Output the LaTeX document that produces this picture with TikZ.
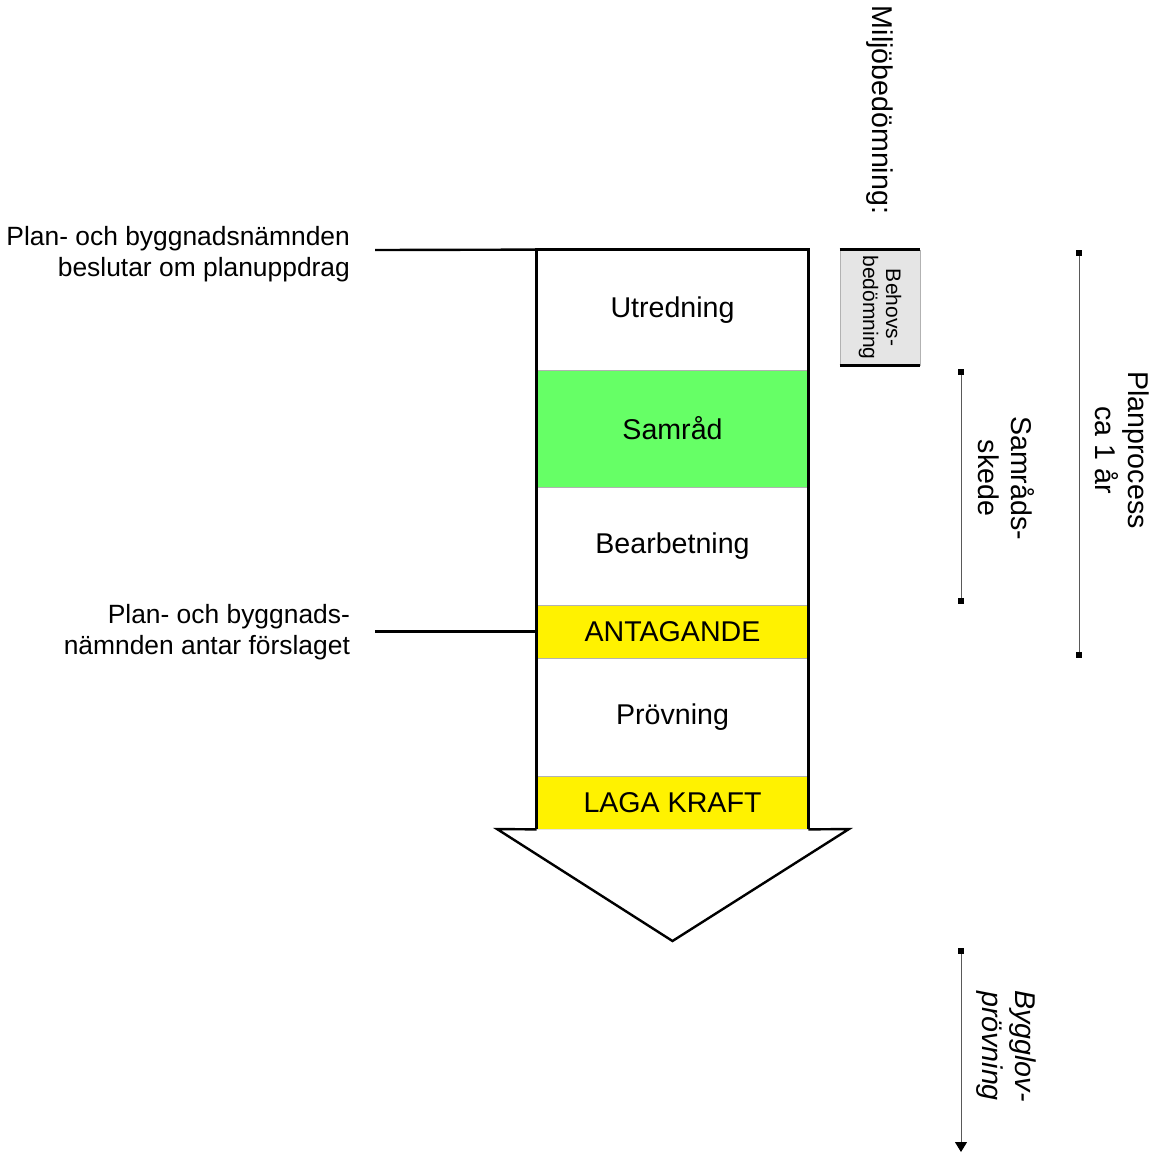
\documentclass[tikz,border=0pt]{standalone}
\usepackage{fontspec}
\setmainfont{Liberation Sans}
\usetikzlibrary{arrows.meta}
\definecolor{samradgreen}{RGB}{102,255,102}

\begin{document}
\begin{tikzpicture}[x=0.5pt,y=-0.5pt]
        % Define styles
        \tikzset{
            band/.style={rectangle, draw=gray!60, line width=0.4pt, inner sep=0pt, minimum width=135.5pt, font=\fontsize{14.3}{16}\selectfont},
            white band/.style={band, fill=white},
            green band/.style={band, fill=samradgreen},
            yellow band/.style={band, fill=yellow},
            leftlabel/.style={align=right, anchor=east, font=\fontsize{13.2}{15.5}\selectfont},
            sidelabel/.style={align=center, rotate=-90, font=\fontsize{14.3}{16.5}\selectfont},
            endmark/.tip={Square[length=3pt,width=3pt,black]},
            span/.style={gray!70!black, line width=0.5pt, endmark-endmark},
            outline/.style={line width=1.2pt}
        }
        \useasboundingbox (0,0) rectangle (1156,1153);

        % Nodes
        \node[white band, minimum height=60pt] (utredning) at (672.5,310) {Utredning};
        \node[green band, minimum height=58.5pt] (samrad) at (672.5,428.5) {Samråd};
        \node[white band, minimum height=59pt] (bearbetning) at (672.5,546) {Bearbetning};
        \node[yellow band, minimum height=26.5pt] (antagande) at (672.5,631.5) {ANTAGANDE};
        \node[white band, minimum height=59pt] (provning) at (672.5,717) {Prövning};
        \node[yellow band, minimum height=26.5pt] (lagakraft) at (672.5,802.5) {LAGA KRAFT};

        \node[leftlabel] (uppdrag) at (357,254) {Plan- och byggnadsnämnden\\beslutar om planuppdrag};
        \node[leftlabel] (antar) at (357,632) {Plan- och byggnads-\\nämnden antar förslaget};

        \node[sidelabel, anchor=south, inner sep=0pt] (miljo) at (866,110) {Miljöbedömning:};
        \node[rectangle, draw=gray!60, fill=gray!20, minimum width=40pt, minimum height=57.5pt, inner sep=0pt] (behov) at (880,307.5) {};
        \node[sidelabel, font=\fontsize{10.5}{11.5}\selectfont] (behovtext) at (behov) {Behovs-\\bedömning};

        \node[sidelabel] (samradtext) at (1006,478) {Samråds-\\skede};
        \node[sidelabel] (plantext) at (1122,450) {Planprocess\\ca 1 år};
        \node[sidelabel, font=\fontsize{14.3}{16.5}\selectfont\itshape] (bygglovtext) at (1006,1046) {Bygglov-\\prövning};

        % Coordinates
        \coordinate (uppdrag end) at (375,250);
        \coordinate (antar end) at (375,631.5);
        \coordinate (head left) at (497,829);
        \coordinate (head right) at (849,829);
        \coordinate (head tip) at (672.5,941);
        \coordinate (samrad top) at (961,369);
        \coordinate (samrad bottom) at (961,604);
        \coordinate (plan top) at (1079,250);
        \coordinate (plan bottom) at (1079,658);
        \coordinate (bygglov top) at (961,948);
        \coordinate (bygglov bottom) at (961,1152);

        % Arrows
        \draw[outline, fill=white, line join=miter] (lagakraft.south west) -- (head left) -- (head tip) -- (head right) -- (lagakraft.south east);
        \draw[outline] (lagakraft.south west) -- (utredning.north west) -- (utredning.north east) -- (lagakraft.south east);
        \draw[outline] (uppdrag end) -- (utredning.north west);
        \draw[outline] (antar end) -- (antagande.west);
        \draw[line width=1.8pt] (behov.north west) -- (behov.north east);
        \draw[line width=1.8pt] (behov.south west) -- (behov.south east);

        \draw[span] (samrad top) -- (samrad bottom);
        \draw[span] (plan top) -- (plan bottom);
        \draw[gray!70!black, line width=0.5pt, endmark-{Triangle[length=5pt,width=6pt,black]}] (bygglov top) -- (bygglov bottom);
    \end{tikzpicture}
\end{document}
